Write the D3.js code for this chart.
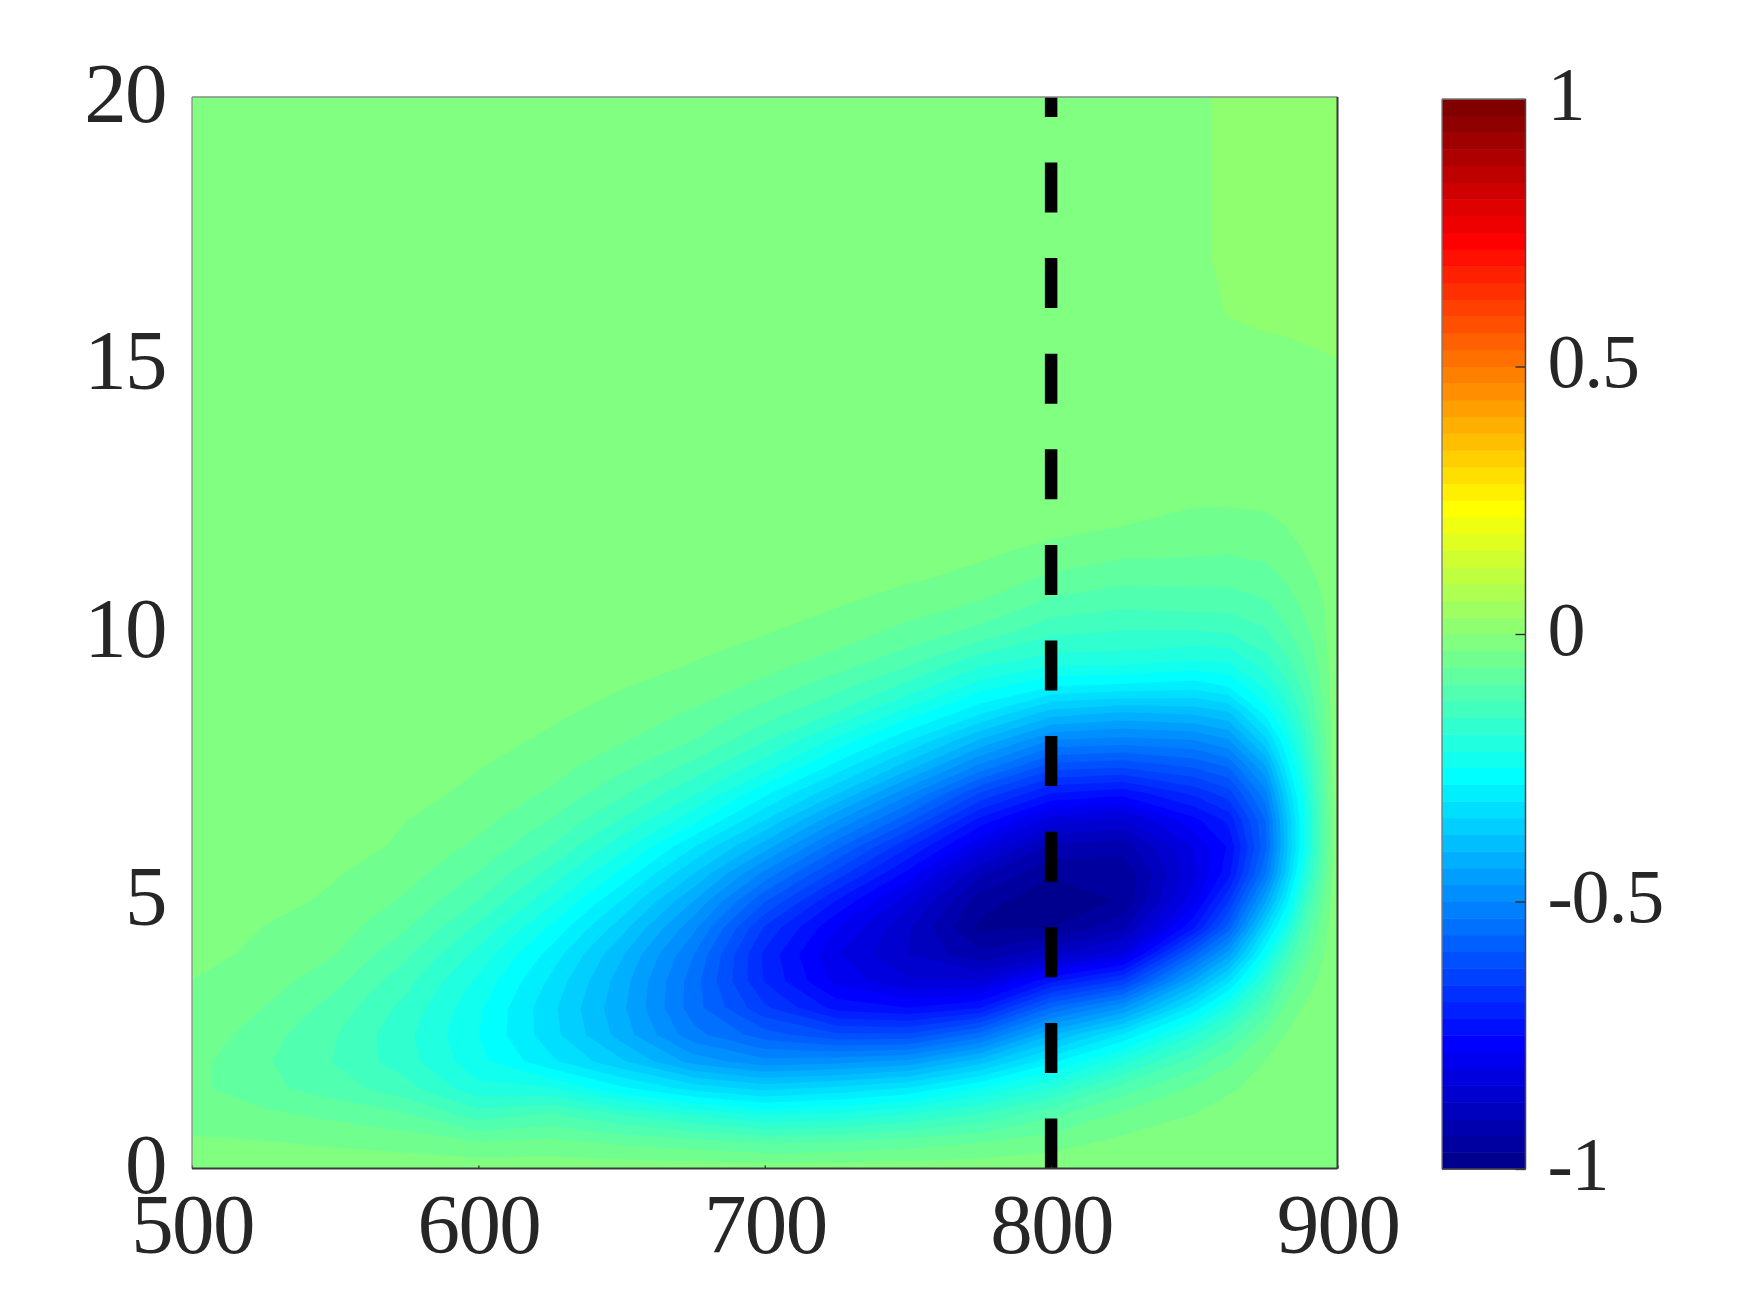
<!DOCTYPE html>
<html><head><meta charset="utf-8">
<script src="https://cdn.jsdelivr.net/npm/d3@7"></script>
<style>
html,body{margin:0;padding:0;background:#fff}
svg{display:block}
text{font-family:"Liberation Serif",serif;fill:#262626}
</style></head><body>
<script>
// Grid
const xColumns = [500,525,550,575,600,625,650,675,700,725,750,775,800,825,850,862,875,882,888,895,900];
const yRows = [0,.5,1,1.5,2,2.5,3,3.5,4,4.5,5,5.5,6,6.5,7,7.5,8,8.5,9,9.5,10,10.5,11,11.5,12,12.5,13,14,15,16,17,20];
const floorValue = -0.001;
// values by column, for y = 0, 0.5 ... 13 (rows past the end of a list are background)
const fieldLower = [
[-.012,-.029,-.039,-.054,-.052,-.04,-.033,-.032,-.018,-.006],
[-.012,-.03,-.055,-.085,-.089,-.079,-.063,-.047,-.04,-.032,-.02,-.006],
[-.012,-.037,-.07,-.11,-.127,-.123,-.107,-.083,-.061,-.047,-.037,-.029,-.016,-.005],
[-.012,-.045,-.09,-.145,-.175,-.18,-.167,-.147,-.119,-.091,-.068,-.05,-.038,-.031,-.022,-.01,-.002],
[-.012,-.06,-.14,-.21,-.24,-.25,-.243,-.225,-.197,-.162,-.125,-.095,-.07,-.051,-.038,-.03,-.02,-.008],
[-.012,-.055,-.12,-.215,-.305,-.33,-.334,-.318,-.292,-.253,-.207,-.165,-.125,-.095,-.067,-.049,-.036,-.026,-.014,-.004],
[-.012,-.07,-.155,-.275,-.37,-.42,-.43,-.422,-.402,-.362,-.314,-.258,-.207,-.159,-.119,-.085,-.059,-.041,-.03,-.02,-.008],
[-.012,-.082,-.19,-.325,-.45,-.52,-.547,-.547,-.529,-.49,-.436,-.374,-.311,-.239,-.182,-.135,-.093,-.067,-.041,-.03,-.021,-.008],
[-.012,-.1,-.22,-.355,-.49,-.58,-.65,-.69,-.695,-.66,-.59,-.51,-.424,-.344,-.274,-.204,-.152,-.108,-.072,-.047,-.03,-.022,-.01,-.002],
[-.012,-.095,-.21,-.335,-.48,-.62,-.73,-.79,-.81,-.78,-.72,-.638,-.555,-.465,-.372,-.293,-.226,-.158,-.113,-.072,-.046,-.03,-.021,-.01,-.002],
[-.012,-.08,-.185,-.31,-.46,-.62,-.75,-.84,-.875,-.87,-.83,-.761,-.685,-.585,-.492,-.392,-.308,-.232,-.165,-.111,-.073,-.048,-.028,-.021,-.008],
[-.012,-.065,-.15,-.25,-.39,-.55,-.72,-.84,-.93,-.975,-.955,-.9,-.812,-.729,-.628,-.509,-.408,-.307,-.233,-.169,-.105,-.068,-.04,-.026,-.018,-.007],
[-.01,-.045,-.1,-.19,-.29,-.41,-.56,-.725,-.88,-.97,-.99,-.965,-.915,-.83,-.72,-.61,-.5,-.39,-.28,-.2,-.15,-.105,-.07,-.04,-.022,-.008],
[-.008,-.024,-.055,-.11,-.2,-.31,-.47,-.65,-.82,-.915,-.965,-.965,-.925,-.85,-.74,-.62,-.51,-.41,-.29,-.2,-.16,-.12,-.085,-.055,-.031,-.02,-.01],
[-.004,-.015,-.03,-.058,-.11,-.19,-.3,-.43,-.57,-.72,-.79,-.82,-.81,-.76,-.68,-.59,-.5,-.4,-.3,-.215,-.16,-.115,-.085,-.058,-.04,-.027,-.015],
[-.002,-.008,-.018,-.036,-.07,-.13,-.21,-.32,-.45,-.58,-.66,-.73,-.745,-.71,-.64,-.56,-.47,-.38,-.28,-.21,-.155,-.115,-.085,-.06,-.04,-.027,-.016],
[-.001,-.004,-.01,-.019,-.03,-.06,-.11,-.175,-.25,-.34,-.44,-.53,-.57,-.56,-.51,-.44,-.35,-.27,-.21,-.165,-.13,-.1,-.075,-.055,-.038,-.025,-.014],
[-.001,-.002,-.005,-.011,-.02,-.03,-.055,-.095,-.15,-.225,-.3,-.365,-.39,-.385,-.35,-.3,-.255,-.205,-.165,-.13,-.1,-.08,-.06,-.045,-.031,-.018,-.008],
[-.001,-.001,-.003,-.006,-.012,-.02,-.03,-.052,-.085,-.125,-.17,-.22,-.255,-.255,-.235,-.205,-.175,-.145,-.118,-.095,-.075,-.058,-.044,-.032,-.02,-.01,-.003],
[-.001,-.001,-.001,-.002,-.004,-.008,-.014,-.022,-.033,-.047,-.065,-.085,-.1,-.1,-.092,-.083,-.073,-.064,-.055,-.047,-.04,-.033,-.025,-.017,-.009,-.004,-.001],
[]
];
// values by column, for y = 14, 15, 16, 17, 20
const fieldUpper = [
[-.001,-.001,-.001,-.001,-.001],[-.001,-.001,-.001,-.001,-.001],[-.001,-.001,-.001,-.001,-.001],
[-.001,-.001,-.001,-.001,-.001],[-.001,-.001,-.001,-.001,-.001],[-.001,-.001,-.001,-.001,-.001],
[-.001,-.001,-.001,-.001,-.001],[-.001,-.001,-.001,-.001,-.001],[-.001,-.001,-.001,-.001,-.001],
[-.001,-.001,-.001,-.001,-.001],[-.001,-.001,-.001,-.001,-.001],[-.001,-.001,-.001,-.001,-.001],
[-.001,-.001,-.001,-.001,-.001],[-.001,-.001,-.001,-.001,-.001],
[-.001,-.004,-.004,-.002,-.002],
[-.001,-.004,.0005,.002,.002],
[-.001,-.0045,.003,.003,.003],
[-.001,-.0035,.003,.003,.003],
[-.001,-.002,.003,.003,.003],
[-.001,-.001,.003,.003,.003],
[-.001,-.0003,.003,.003,.003]
];
const xTicks = [500,600,700,800,900];
const yTicks = [0,5,10,15,20];
const barTicks = [-1,-0.5,0,0.5,1];
const barLabels = ["-1","-0.5","0","0.5","1"];
const markerX = 800;

const W = 1750, H = 1313;
const plot = {l:192, r:1337.5, t:97, b:1168.5};
const bar = {l:1442, r:1525.5, t:99, b:1169};

const svg = d3.select("body").append("svg").attr("width",W).attr("height",H);
svg.append("rect").attr("width",W).attr("height",H).attr("fill","#fff");

const x = d3.scaleLinear().domain([500,900]).range([plot.l,plot.r]);
const y = d3.scaleLinear().domain([0,20]).range([plot.b,plot.t]);

// MATLAB jet(64)
const u = [...d3.range(1,17).map(k=>k/16), ...d3.range(15).map(()=>1), ...d3.range(16,0,-1).map(k=>k/16)];
const at = i => (i>=1 && i<=47) ? u[i-1] : 0;
const jet = d3.range(1,65).map(j => d3.rgb(255*at(j-24),255*at(j-8),255*at(j+8)).formatHex());

const nx = xColumns.length, ny = yRows.length;
const nLower = 27;
const values = new Array(nx*ny);
for (let j=0;j<ny;j++) for (let i=0;i<nx;i++) {
  const v = j<nLower ? fieldLower[i][j] : fieldUpper[i][j-nLower];
  values[i+j*nx] = v===undefined ? floorValue : v;
}

// level lower bounds: -1 ... 0 in steps of 1/32
const levels = d3.range(33).map(i=>-1+i/32);
const contours = d3.contours().size([nx,ny]).thresholds(levels)(values);

const ix = d3.scaleLinear().domain(d3.range(nx)).range(xColumns).clamp(true);
const iy = d3.scaleLinear().domain(d3.range(ny)).range(yRows).clamp(true);
const path = d3.geoPath(d3.geoTransform({
  point(a,b){ this.stream.point(x(ix(a-0.5)), y(iy(b-0.5))); }
}));

const clip = svg.append("clipPath").attr("id","plotclip");
clip.append("rect").attr("x",plot.l).attr("y",plot.t).attr("width",plot.r-plot.l).attr("height",plot.b-plot.t);

const gField = svg.append("g").attr("clip-path","url(#plotclip)");
gField.append("rect").attr("x",plot.l).attr("y",plot.t).attr("width",plot.r-plot.l).attr("height",plot.b-plot.t).attr("fill",jet[31]);
gField.selectAll("path").data(contours).join("path")
  .attr("d",path)
  .attr("fill",(d,i)=>jet[i]);

// dashed marker
gField.append("line")
  .attr("x1",x(markerX)).attr("x2",x(markerX))
  .attr("y1",y(0)).attr("y2",y(20))
  .attr("stroke","#000").attr("stroke-width",12.5)
  .attr("stroke-dasharray","50 45.6");

// axes
const tickFont = 85;
const gx = svg.append("g").attr("transform",`translate(0,${plot.b})`)
  .call(d3.axisBottom(x).tickValues(xTicks).tickSize(-3).tickSizeOuter(0));
gx.select(".domain").remove();
gx.selectAll("line").attr("stroke","#262626").attr("stroke-width",1.2);
gx.selectAll("text").attr("y",84.5).attr("dy",null).attr("font-size",tickFont).attr("letter-spacing",-1.6).attr("fill","#262626");

const gy = svg.append("g").attr("transform",`translate(${plot.l},0)`)
  .call(d3.axisLeft(y).tickValues(yTicks).tickSize(0).tickSizeOuter(0));
gy.select(".domain").remove();
gy.selectAll("text").attr("x",-26).attr("dy",null).attr("y",24).attr("font-size",tickFont).attr("letter-spacing",-1.6).attr("fill","#262626");

// frame
const edge = (x1,y1,x2,y2,c,w)=>svg.append("line").attr("x1",x1).attr("y1",y1).attr("x2",x2).attr("y2",y2).attr("stroke",c).attr("stroke-width",w);
edge(plot.l,plot.t,plot.r,plot.t,"#8a8a8a",1.3);
edge(plot.l,plot.t,plot.l,plot.b,"#8a8a8a",1.3);
edge(plot.l,plot.b,plot.r,plot.b,"#3a3a3a",2);
edge(plot.r,plot.t,plot.r,plot.b,"#3a3a3a",2);

// colour bar
const cb = d3.scaleLinear().domain([-1,1]).range([bar.b,bar.t]);
svg.append("g").selectAll("rect").data(jet).join("rect")
  .attr("x",bar.l).attr("width",bar.r-bar.l)
  .attr("y",(d,i)=>cb(-1+(i+1)/32)).attr("height",(d,i)=>cb(-1+i/32)-cb(-1+(i+1)/32)+0.5)
  .attr("fill",d=>d);
const gb = svg.append("g").attr("transform",`translate(${bar.r},0)`)
  .call(d3.axisRight(cb).tickValues(barTicks).tickFormat((d,i)=>barLabels[i]).tickSize(-10).tickSizeOuter(0));
gb.select(".domain").remove();
gb.selectAll("line").attr("stroke","#262626").attr("stroke-width",1.3);
gb.selectAll("text").attr("x",22).attr("dy",null).attr("y",20).attr("font-size",76).attr("letter-spacing",-1.2).attr("fill","#262626");
edge(bar.l,bar.t,bar.r,bar.t,"#777",1.3);
edge(bar.l,bar.t,bar.l,bar.b,"#777",1.3);
edge(bar.r,bar.t,bar.r,bar.b,"#444",1.5);
edge(bar.l,bar.b,bar.r,bar.b,"#444",1.5);
</script>
</body></html>
